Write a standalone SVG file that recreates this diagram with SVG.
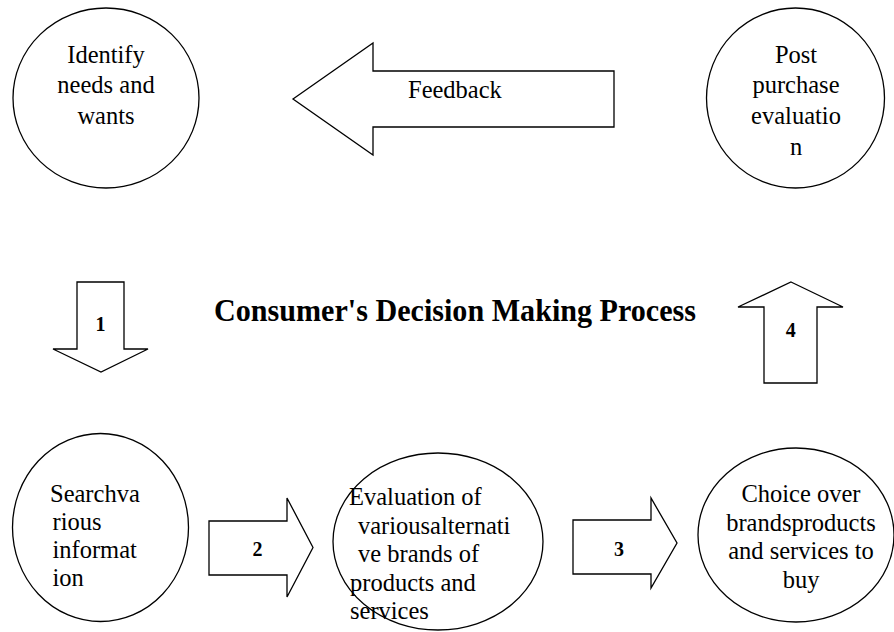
<svg xmlns="http://www.w3.org/2000/svg" width="894" height="632" viewBox="0 0 894 632">
<style>
.shape{fill:none;stroke:#000;stroke-width:1.3}
.arrow{fill:#fff;stroke:#000;stroke-width:1.3;stroke-linejoin:miter}
.t{font-family:"Liberation Serif","Times New Roman",serif;font-size:24.5px;fill:#000}
.c{text-anchor:middle}
.n{font-family:"Liberation Serif","Times New Roman",serif;font-size:20px;font-weight:bold;fill:#000;text-anchor:middle}
.title{font-family:"Liberation Serif","Times New Roman",serif;font-size:32px;font-weight:bold;fill:#000}
</style>
<rect width="894" height="632" fill="#fff"/>
<g id="connectors">
  <g id="feedback">
    <polygon class="arrow" points="293,99 373,43 373,71 614,71 614,127 373,127 373,155"/>
    <text class="t" x="408" y="98">Feedback</text>
  </g>
  <g id="arrow1">
    <polygon class="arrow" points="77,282 124,282 124,349 148,349 101,372 53,349 77,349"/>
    <text class="n" x="100.5" y="331">1</text>
  </g>
  <g id="arrow2">
    <polygon class="arrow" points="209,521 287,521 287,498 313,547.5 287,597 287,575 209,575"/>
    <text class="n" x="257.5" y="556">2</text>
  </g>
  <g id="arrow3">
    <polygon class="arrow" points="573,520 651,520 651,498 677,543 651,588 651,574 573,574"/>
    <text class="n" x="619" y="556">3</text>
  </g>
  <g id="arrow4">
    <polygon class="arrow" points="791,282 843,307 817,307 817,383 764,383 764,307 738,307"/>
    <text class="n" x="790.7" y="337">4</text>
  </g>
</g>
<g id="title">
  <text class="title" x="214" y="321" textLength="482" lengthAdjust="spacingAndGlyphs">Consumer's Decision Making Process</text>
</g>
<g id="node-identify">
  <ellipse class="shape" cx="106" cy="98" rx="93" ry="90"/>
  <text class="t c" x="106" y="63">Identify</text>
  <text class="t c" x="106" y="93">needs and</text>
  <text class="t c" x="106" y="124">wants</text>
</g>
<g id="node-post">
  <ellipse class="shape" cx="795.5" cy="98" rx="89" ry="90"/>
  <text class="t c" x="796" y="63">Post</text>
  <text class="t c" x="796" y="93">purchase</text>
  <text class="t c" x="796" y="124">evaluatio</text>
  <text class="t c" x="796" y="155">n</text>
</g>
<g id="node-search">
  <ellipse class="shape" cx="100.5" cy="527.5" rx="88" ry="94"/>
  <text class="t" x="50" y="502">Searchva</text>
  <text class="t" x="52.5" y="530">rious</text>
  <text class="t" x="52.5" y="558">informat</text>
  <text class="t" x="52.5" y="586">ion</text>
</g>
<g id="node-evaluation">
  <text class="t" x="349" y="505">Evaluation of</text>
  <text class="t" x="358" y="533.5">variousalternati</text>
  <text class="t" x="358" y="562">ve brands of</text>
  <text class="t" x="350" y="590.5">products and</text>
  <text class="t" x="350" y="619">services</text>
  <ellipse class="shape" cx="438" cy="541.5" rx="105" ry="88.5"/>
</g>
<g id="node-choice">
  <ellipse class="shape" cx="796" cy="535" rx="98" ry="87"/>
  <text class="t c" x="801" y="502">Choice over</text>
  <text class="t c" x="801" y="530.5">brandsproducts</text>
  <text class="t c" x="801" y="559">and services to</text>
  <text class="t c" x="801" y="587.5">buy</text>
</g>
</svg>
